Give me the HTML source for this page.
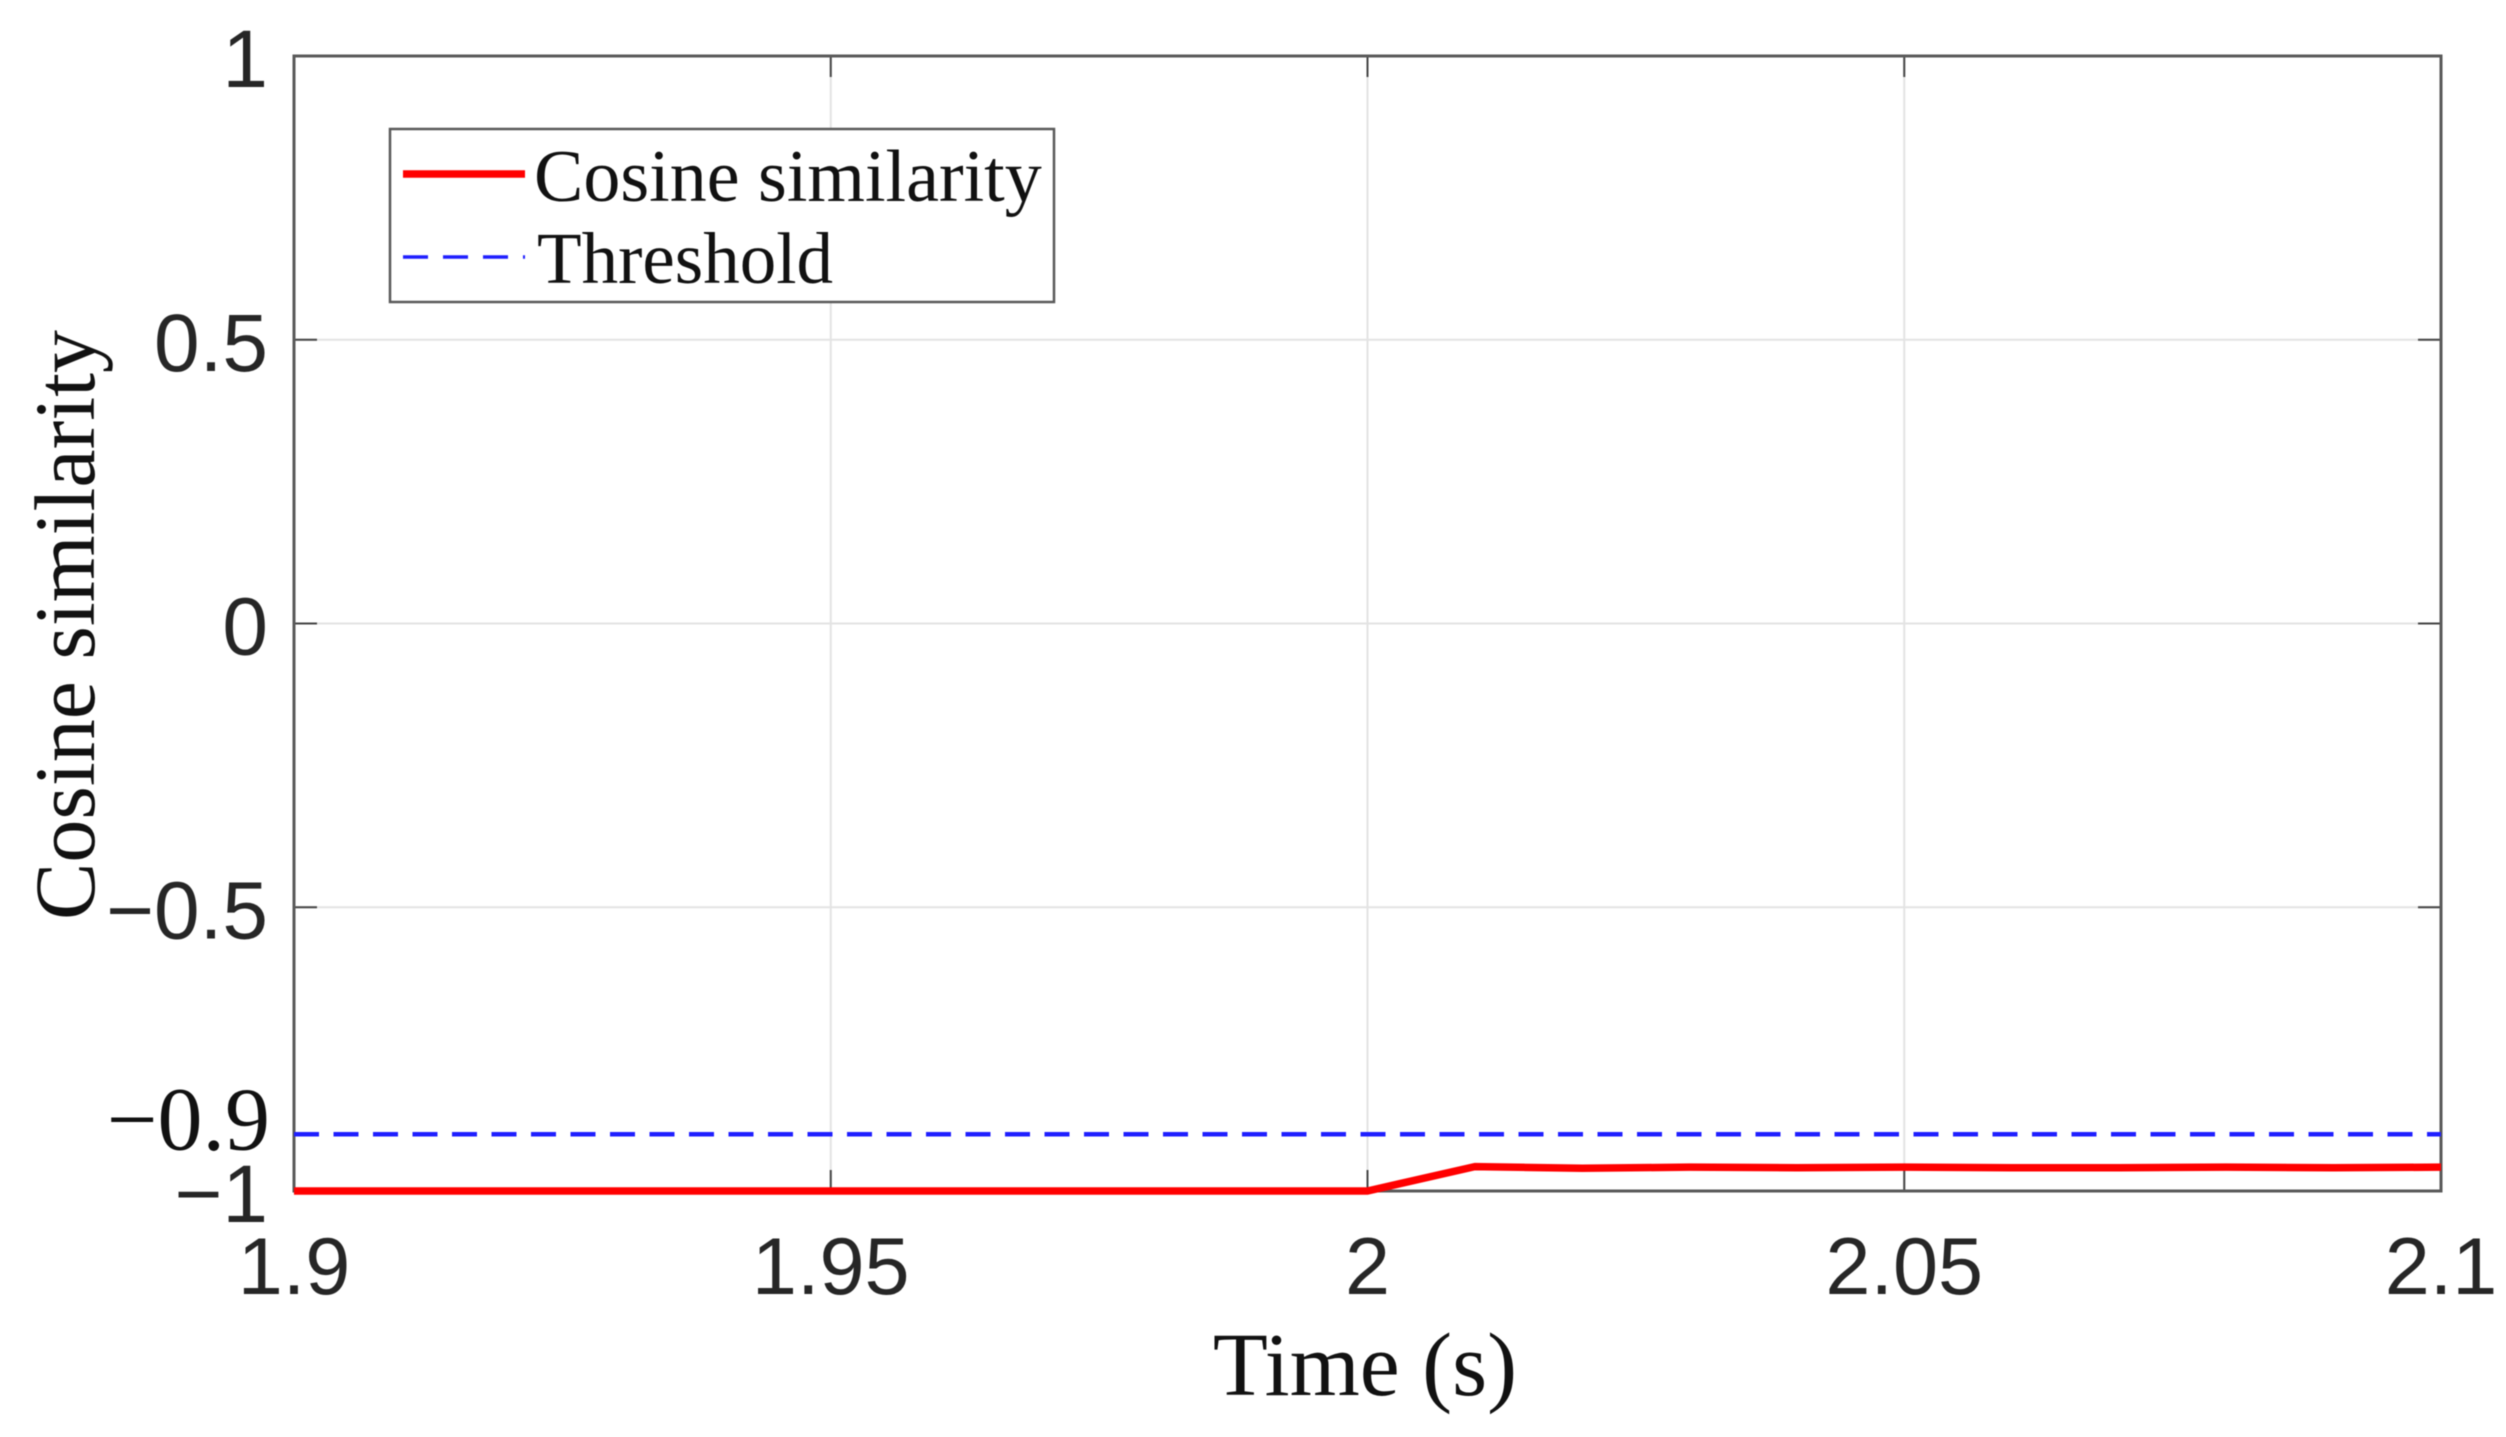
<!DOCTYPE html>
<html lang="en">
<head>
<meta charset="utf-8">
<title>Cosine similarity over time</title>
<style>
html,body{margin:0;padding:0;background:#fff;width:2506px;height:1437px;overflow:hidden}
svg{display:block;filter:blur(0.6px)}
.sans{font-family:"Liberation Sans",Arial,sans-serif;fill:#262626}
.serif{font-family:"Liberation Serif","Times New Roman",serif;fill:#111}
</style>
</head>
<body>
<svg id="chart" xmlns="http://www.w3.org/2000/svg" width="2506" height="1437" viewBox="0 0 2506 1437"></svg>
<script>
const xTicks = [1.9, 1.95, 2, 2.05, 2.1];
const xTickLabels = ['1.9', '1.95', '2', '2.05', '2.1'];
const yTicks = [1, 0.5, 0, -0.5, -0.9, -1];
const yTickLabels = ['1', '0.5', '0', '\u22120.5', '\u22120.9', '\u22121'];
const yGridValues = [0.5, 0, -0.5];
const timeValues = [1.9, 1.91, 1.92, 1.93, 1.94, 1.95, 1.96, 1.97, 1.98, 1.99, 2, 2.01, 2.02, 2.03, 2.04, 2.05, 2.06, 2.07, 2.08, 2.09, 2.1];
const similarityValues = [-1, -1, -1, -1, -1, -1, -1, -1, -1, -1, -1, -0.957, -0.96, -0.958, -0.959, -0.958, -0.959, -0.959, -0.958, -0.959, -0.958];
const thresholdTimes = [1.9, 2.1];
const thresholdValues = [-0.9, -0.9];

const svg = document.getElementById('chart');
const NS = 'http://www.w3.org/2000/svg';
const plotLeft = 294, plotRight = 2441, plotTop = 56, plotBottom = 1191;
function xScale(v) { return plotLeft + (v - 1.9) / 0.2 * (plotRight - plotLeft); }
function yScale(v) { return plotTop + (1 - v) / 2 * (plotBottom - plotTop); }
function make(tag, attrs, parent) {
  const el = document.createElementNS(NS, tag);
  for (const k in attrs) el.setAttribute(k, attrs[k]);
  (parent || svg).appendChild(el);
  return el;
}
function segment(x1, y1, x2, y2, stroke, width) {
  return make('line', { x1: x1, y1: y1, x2: x2, y2: y2, stroke: stroke, 'stroke-width': width });
}
function pathFrom(xs, ys) {
  return xs.map(function (t, i) { return (i ? 'L' : 'M') + xScale(t).toFixed(2) + ' ' + yScale(ys[i]).toFixed(2); }).join(' ');
}

// Grid lines
xTicks.slice(1, -1).forEach(function (v) {
  const g = segment(xScale(v), plotTop, xScale(v), plotBottom, '#e3e3e3', 2);
  
  
});
yGridValues.forEach(function (v) {
  const g = segment(plotLeft, yScale(v), plotRight, yScale(v), '#e3e3e3', 2);
  
  
});

// Tick marks on all four sides
xTicks.slice(1, -1).forEach(function (v) {
  const b = segment(xScale(v), plotBottom, xScale(v), plotBottom - 21, '#444', 2);
  
  
  const t = segment(xScale(v), plotTop, xScale(v), plotTop + 21, '#444', 2);
  
  
});
yGridValues.forEach(function (v) {
  const l = segment(plotLeft, yScale(v), plotLeft + 23, yScale(v), '#444', 2);
  
  
  const r = segment(plotRight, yScale(v), plotRight - 23, yScale(v), '#444', 2);
  
  
});

// Axes box
const axesBox = make('rect', { x: plotLeft, y: plotTop, width: plotRight - plotLeft, height: plotBottom - plotTop, fill: 'none', stroke: '#5a5a5a', 'stroke-width': 3 });



// Series
const thresholdLine = make('path', { d: pathFrom(thresholdTimes, thresholdValues), fill: 'none', stroke: '#1f1fff', 'stroke-width': 4.5, 'stroke-dasharray': '25 14.5' });


const similarityLine = make('path', { d: pathFrom(timeValues, similarityValues), fill: 'none', stroke: '#ff0000', 'stroke-width': 7.5, 'stroke-linejoin': 'round' });



// X tick labels
xTicks.forEach(function (v, i) {
  const t = make('text', { x: xScale(v), y: 1294, 'text-anchor': 'middle', 'font-size': 81, class: 'sans' });
  t.textContent = xTickLabels[i];
  
  
});

// Y tick labels; the -0.9 threshold label is set in the serif face
yTicks.forEach(function (v, i) {
  const isThreshold = v === -0.9;
  const t = make('text', {
    x: isThreshold ? 270 : 268,
    y: isThreshold ? yScale(v) + 15 : yScale(v) + 31,
    'text-anchor': 'end',
    'font-size': isThreshold ? 90 : 82,
    class: isThreshold ? 'serif' : 'sans'
  });
  t.textContent = yTickLabels[i];
  
  
});
</script>
<script>
(function () {
  const s = document.getElementById('chart');
  const ns = 'http://www.w3.org/2000/svg';
  function add(tag, attrs) {
    const el = document.createElementNS(ns, tag);
    for (const k in attrs) el.setAttribute(k, attrs[k]);
    s.appendChild(el);
    return el;
  }
  const xt = add('text', { x: 1365, y: 1395, 'text-anchor': 'middle', 'font-size': 90, class: 'serif' });
  xt.textContent = 'Time (s)';
  
  

  const yt = add('text', { x: 0, y: 0, transform: 'translate(94 625) rotate(-90)', 'text-anchor': 'middle', 'font-size': 86, class: 'serif' });
  yt.textContent = 'Cosine similarity';
  
  

  const lb = add('rect', { x: 390, y: 129, width: 664, height: 173, fill: '#fff', stroke: '#5a5a5a', 'stroke-width': 2.5 });
  
  

  const ls1 = add('line', { x1: 403, y1: 174, x2: 525, y2: 174, stroke: '#ff0000', 'stroke-width': 7.5 });
  
  

  const lt1 = add('text', { x: 534, y: 201, 'font-size': 74, class: 'serif' });
  lt1.textContent = 'Cosine similarity';
  
  

  const ls2 = add('line', { x1: 403, y1: 257, x2: 525, y2: 257, stroke: '#1f1fff', 'stroke-width': 3.5, 'stroke-dasharray': '25 15' });
  
  

  const lt2 = add('text', { x: 537, y: 283, 'font-size': 73, class: 'serif' });
  lt2.textContent = 'Threshold';
  
  
})();
</script>
</body>
</html>
